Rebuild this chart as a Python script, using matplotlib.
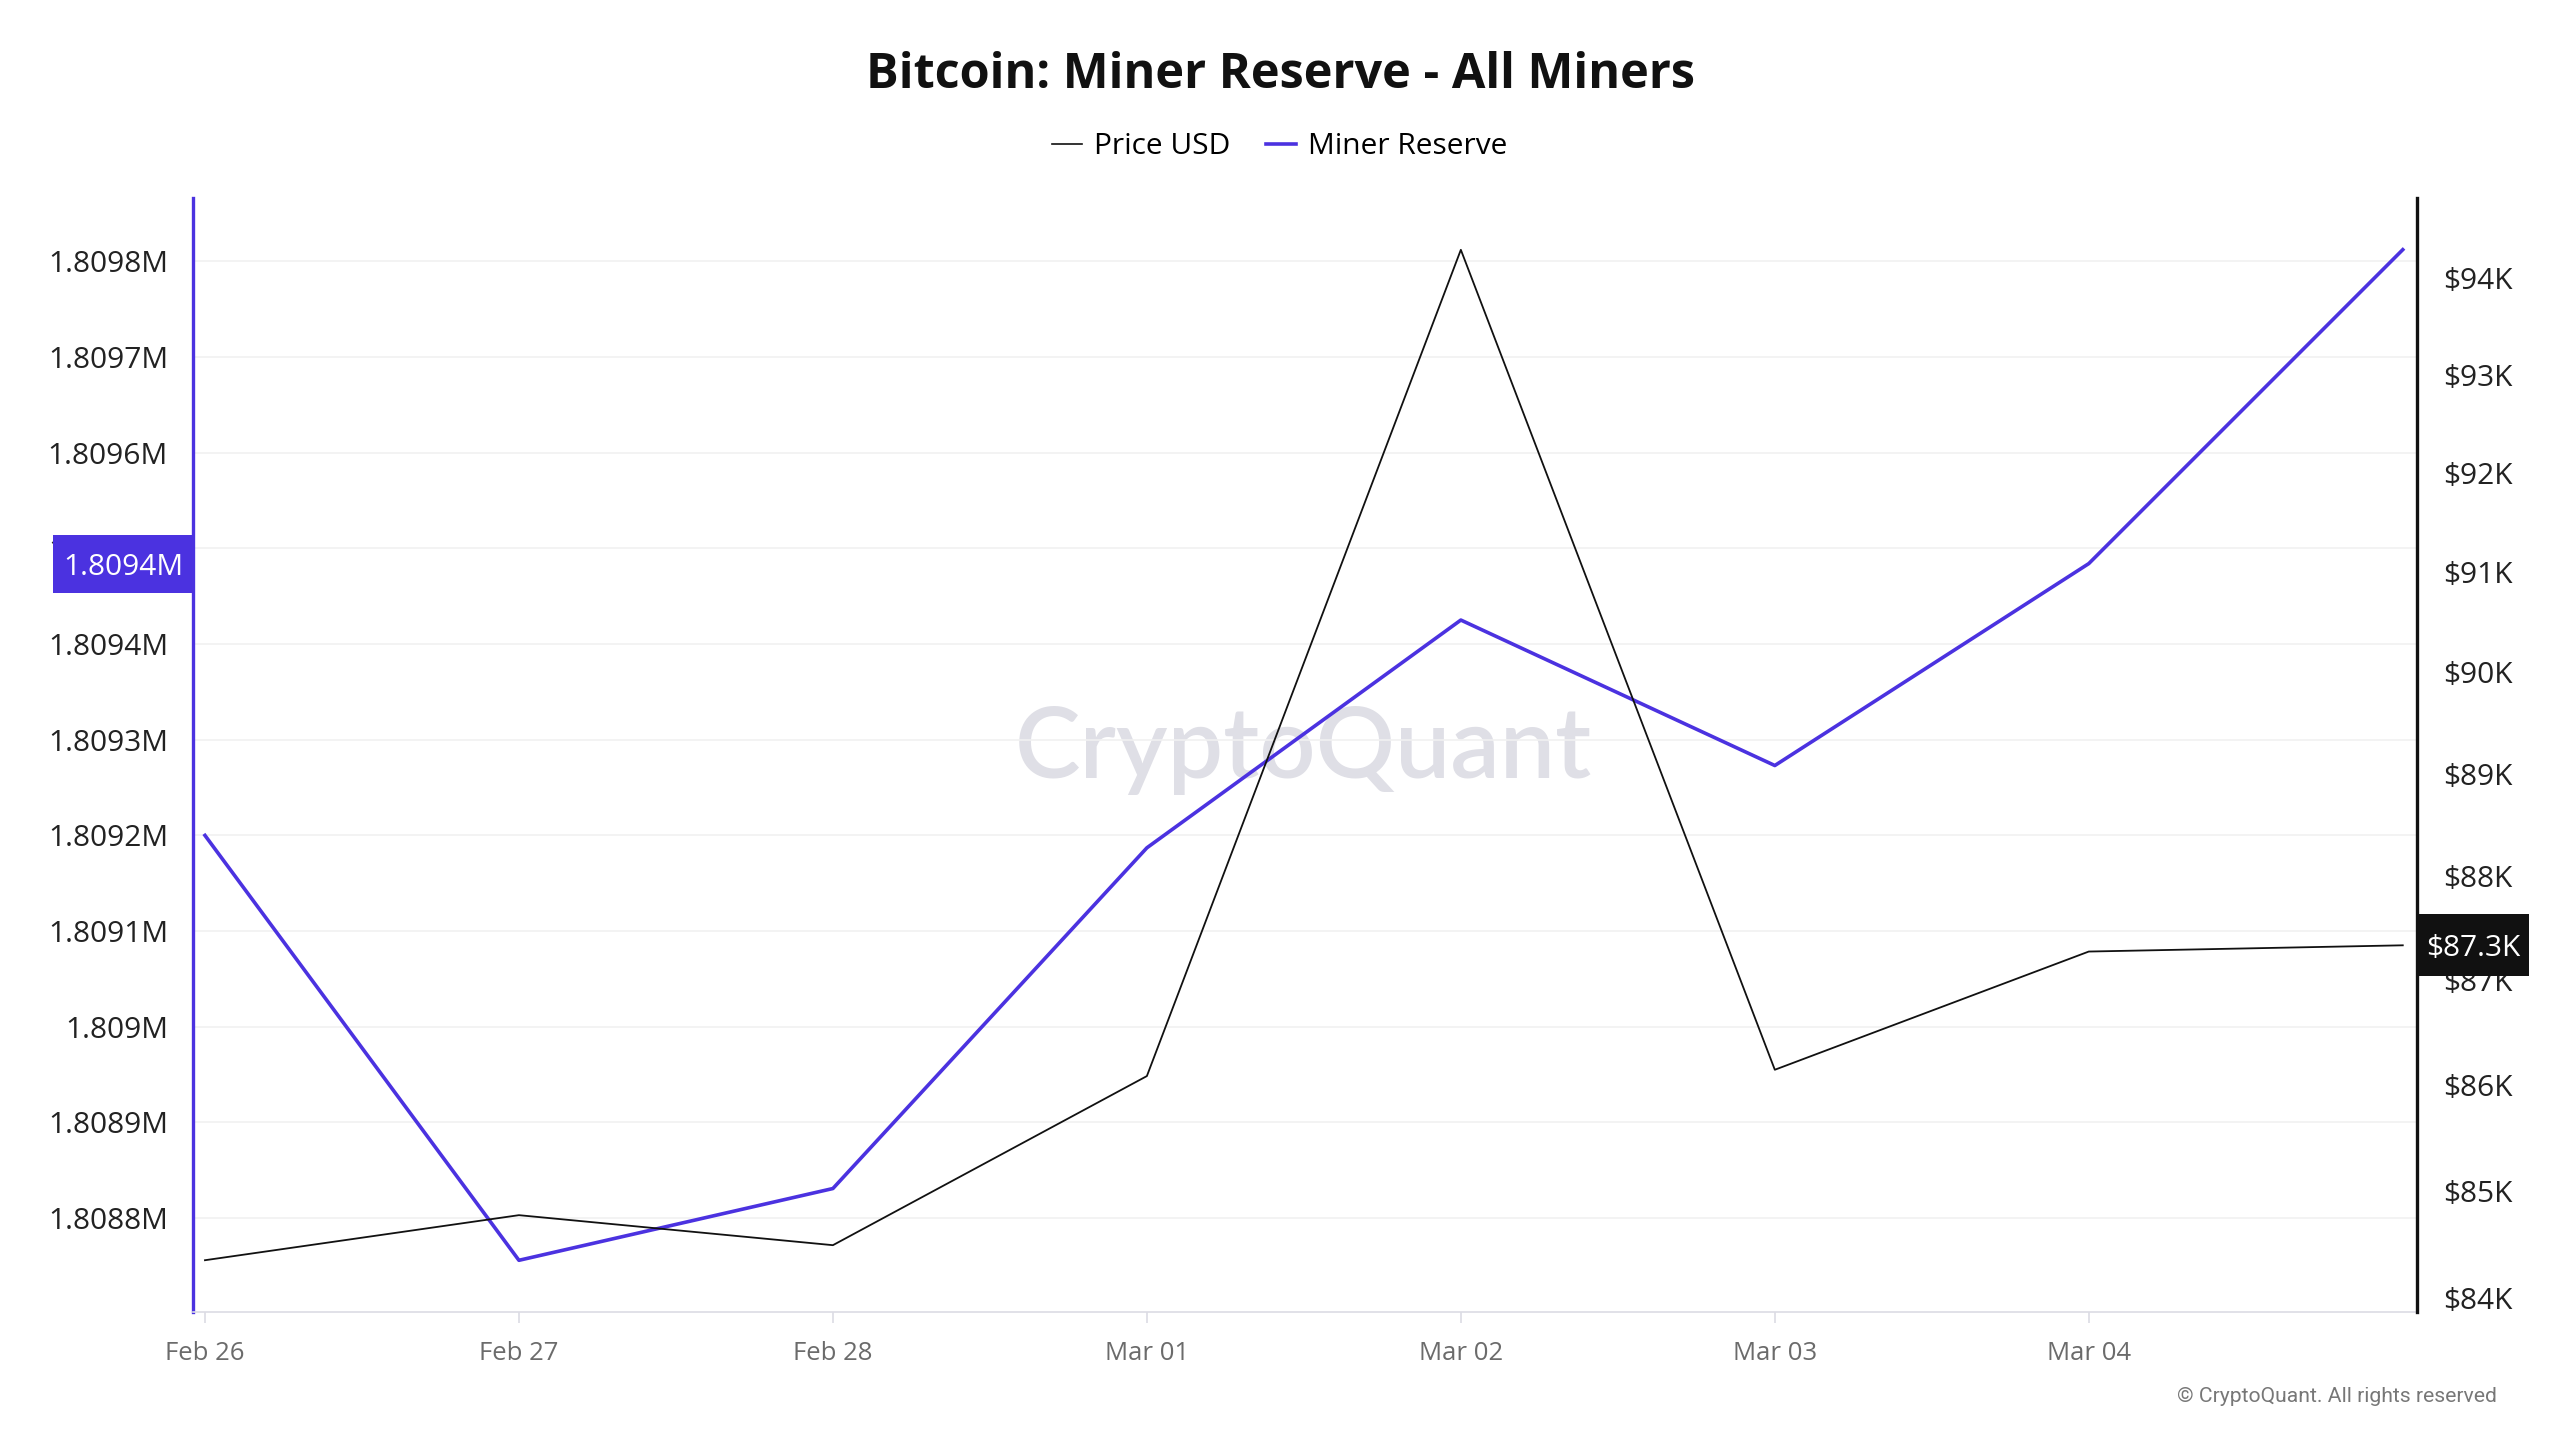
import numpy as np
import matplotlib
matplotlib.use('Agg')
import matplotlib.pyplot as plt
import matplotlib.transforms as mtrans
from matplotlib.ticker import FuncFormatter, NullLocator, FixedLocator
from matplotlib.lines import Line2D
from matplotlib.patches import Rectangle

plt.rcParams['font.family'] = ['Open Sans', 'DejaVu Sans']

# data
dates = ['Feb 26', 'Feb 27', 'Feb 28', 'Mar 01', 'Mar 02', 'Mar 03', 'Mar 04', 'Mar 05']
tick_labels = ['Feb 26', 'Feb 27', 'Feb 28', 'Mar 01', 'Mar 02', 'Mar 03', 'Mar 04']
miner_reserve = [1809200, 1808756, 1808831, 1809187, 1809425, 1809273, 1809484, 1809812]
price_usd = [84350, 84770, 84490, 86080, 94290, 86140, 87270, 87330]
left_ticks = [1808800, 1808900, 1809000, 1809100, 1809200, 1809300,
              1809400, 1809500, 1809600, 1809700, 1809800]
right_ticks = [84000, 85000, 86000, 87000, 88000, 89000, 90000, 91000, 92000, 93000, 94000]

PURPLE = '#4b32e0'
DARK = '#111111'

fig = plt.figure(figsize=(25.6, 14.4), dpi=100)
ax = fig.add_axes([0.0754, 0.0889, 0.8687, 0.7736])
ax2 = ax.twinx()

x = np.arange(len(dates))
ax.plot(x, miner_reserve, color=PURPLE, lw=2.6, zorder=3)
ax2.plot(x, price_usd, color=DARK, lw=1.3)

ax.set_xlim(-0.038, 7.045)
ax.set_ylim(1808702, 1809866)
ax2.set_yscale('log')
ax2.set_ylim(83870, 94830)

# left axis
ax.yaxis.set_major_locator(FixedLocator(left_ticks))
ax.yaxis.set_major_formatter(FuncFormatter(lambda v, p: ('%.4f' % (v / 1e6)).rstrip('0') + 'M'))
ax.set_xticks(x[:7])
ax.set_xticklabels(tick_labels)
ax.yaxis.grid(True, color='#f1f1f1', lw=1.2)
ax.tick_params(axis='y', length=0, pad=18, labelsize=21.5, labelcolor='#222222')
ax.tick_params(axis='x', length=8, width=1.2, color='#dcdce4', pad=13, labelsize=18.5, labelcolor='#6b6b6b')
for s in ['top', 'right']:
    ax.spines[s].set_visible(False)
ax.spines['left'].set_color(PURPLE)
ax.spines['left'].set_linewidth(2.4)
ax.spines['bottom'].set_color('#dcdce4')
ax.spines['bottom'].set_linewidth(1.2)

# right axis (log scale)
ax2.yaxis.set_major_locator(FixedLocator(right_ticks))
ax2.yaxis.set_minor_locator(NullLocator())
ax2.yaxis.set_major_formatter(FuncFormatter(lambda v, p: '$%dK' % round(v / 1000)))
ax2.tick_params(axis='y', length=0, pad=19, labelsize=21.5, labelcolor='#222222')
for s in ['top', 'left', 'bottom']:
    ax2.spines[s].set_visible(False)
ax2.spines['right'].set_color(DARK)
ax2.spines['right'].set_linewidth(2.4)

# value badges on the axes (drawn in pixels so they cover the tick label underneath)
ident = mtrans.IdentityTransform()
mr_val = miner_reserve[6]
mr_txt = '%.4fM' % (np.floor(mr_val / 100) / 1e4)
x_l = ax.transAxes.transform((0, 0))[0]
y_mr = ax.transData.transform((0, mr_val))[1]
fig.patches.append(Rectangle((x_l - 140, y_mr - 29), 140, 58, transform=ident,
                             fc=PURPLE, ec='none', zorder=5))
fig.text(x_l - 70, y_mr, mr_txt, transform=ident, ha='center', va='center_baseline',
         fontsize=21.5, color='white', zorder=6)

p_val = price_usd[-1]
x_r = ax2.transAxes.transform((1, 0))[0]
y_p = ax2.transData.transform((0, p_val))[1]
fig.patches.append(Rectangle((x_r, y_p - 31), 112, 62, transform=ident,
                             fc=DARK, ec='none', zorder=5))
fig.text(x_r + 56, y_p, '$%.1fK' % (p_val / 1000), transform=ident, ha='center', va='center_baseline',
         fontsize=21.5, color='white', zorder=6)

# watermark behind the lines
ax.text(0.509, 1 - 750 / 1440, 'CryptoQuant', transform=fig.transFigure, ha='center', va='center',
        fontsize=71, color='#dfdfe6', family='Lato', weight='semibold', zorder=0.5)

fig.text(0.5, 1 - 76 / 1440, 'Bitcoin: Miner Reserve - All Miners', ha='center', va='center',
         fontsize=35, weight='bold', color=DARK)

handles = [Line2D([], [], color=DARK, lw=1.2), Line2D([], [], color=PURPLE, lw=2.6)]
fig.legend(handles, ['Price USD', 'Miner Reserve'], loc='center', bbox_to_anchor=(0.5, 1 - 147 / 1440),
           ncol=2, frameon=False, fontsize=21.5, handlelength=1.0, handletextpad=0.4, columnspacing=1.2)

fig.text(0.9754, 1 - 1396 / 1440, '\u00a9 CryptoQuant. All rights reserved', ha='right', va='center',
         fontsize=15.2, color='#777777', family='Roboto')

fig.savefig('out.png', dpi=100)
